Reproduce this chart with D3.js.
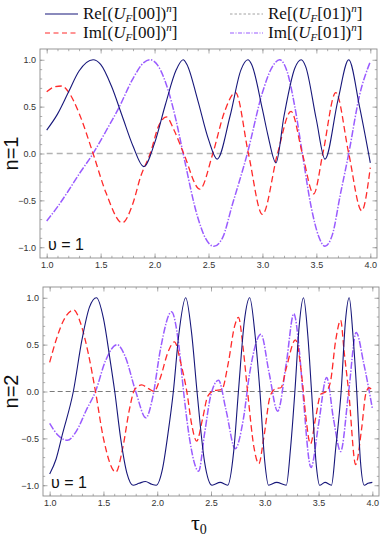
<!DOCTYPE html>
<html>
<head>
<meta charset="utf-8">
<script src="https://cdn.jsdelivr.net/npm/d3@7"></script>
<style>
  body { margin: 0; background: #fff; }
  svg { display: block; }
</style>
</head>
<body>
<div id="chart"></div>
<script>
// tick values
var tauTicks = [1.0, 1.5, 2.0, 2.5, 3.0, 3.5, 4.0];
var valTicks = [-1.0, -0.5, 0.0, 0.5, 1.0];

// n = 1 panel, [tau0, value]
var re00_n1 = [[1.0,0.25],[1.1,0.42],[1.2,0.65],[1.3,0.88],[1.43,1.0],[1.5,0.95],[1.6,0.72],[1.7,0.40],[1.8,0.08],[1.9,-0.14],[2.0,0.11],[2.1,0.52],[2.2,0.89],[2.265,1.0],[2.3,0.95],[2.4,0.57],[2.5,0.15],[2.58,-0.06],[2.7,0.40],[2.8,0.89],[2.865,1.0],[2.9,0.95],[3.0,0.47],[3.05,0.2],[3.125,-0.10],[3.2,0.40],[3.3,0.91],[3.36,1.0],[3.4,0.93],[3.5,0.36],[3.58,-0.06],[3.7,0.57],[3.8,1.0],[3.9,0.5],[4.0,-0.1]];
var im00_n1 = [[1.0,0.66],[1.07,0.71],[1.14,0.72],[1.2,0.66],[1.3,0.43],[1.43,0.0],[1.55,-0.42],[1.7,-0.74],[1.8,-0.53],[1.87,-0.25],[1.96,0.0],[2.04,0.3],[2.11,0.39],[2.18,0.25],[2.27,0.0],[2.42,-0.38],[2.54,0.0],[2.65,0.45],[2.75,0.65],[2.87,0.0],[3.0,-0.65],[3.14,0.0],[3.265,0.45],[3.37,0.0],[3.475,-0.43],[3.56,0.0],[3.68,0.65],[3.8,0.0],[3.92,-0.61],[4.0,-0.15]];
var re01_n1 = [[1.0,0],[4.0,0]];
var im01_n1 = [[1.0,-0.72],[1.1,-0.57],[1.2,-0.4],[1.3,-0.22],[1.43,0.0],[1.55,0.24],[1.67,0.49],[1.8,0.8],[1.9,0.97],[1.96,1.0],[2.03,0.94],[2.13,0.66],[2.2,0.35],[2.265,0.0],[2.4,-0.68],[2.47,-0.9],[2.55,-0.99],[2.63,-0.9],[2.72,-0.55],[2.86,0.0],[3.0,0.65],[3.08,0.9],[3.16,1.0],[3.23,0.87],[3.3,0.5],[3.37,0.0],[3.45,-0.56],[3.52,-0.88],[3.58,-0.99],[3.65,-0.86],[3.72,-0.45],[3.8,0.0],[3.9,0.62],[4.0,0.98]];

// n = 2 panel
var re00_n2 = [[1.0,-0.88],[1.06,-0.72],[1.12,-0.45],[1.22,0.0],[1.3,0.55],[1.37,0.9],[1.435,1.0],[1.5,0.78],[1.56,0.35],[1.605,0.0],[1.66,-0.5],[1.72,-0.88],[1.775,-1.0],[1.83,-0.98],[1.89,-0.96],[1.95,-0.99],[1.99,-1.0],[2.05,-0.82],[2.1,-0.45],[2.15,0.0],[2.2,0.6],[2.265,1.0],[2.32,0.62],[2.37,0.0],[2.44,-0.75],[2.51,-1.0],[2.585,-0.97],[2.655,-1.0],[2.71,-0.65],[2.755,0.0],[2.81,0.75],[2.86,1.0],[2.91,0.6],[2.955,0.0],[3.0,-0.75],[3.035,-1.0],[3.11,-0.97],[3.2,-1.0],[3.24,-0.6],[3.28,0.0],[3.32,0.7],[3.36,1.0],[3.4,0.6],[3.435,0.0],[3.48,-0.8],[3.51,-1.0],[3.56,-0.97],[3.62,-1.0],[3.66,-0.6],[3.71,0.0],[3.75,0.75],[3.785,1.0],[3.82,0.6],[3.855,0.0],[3.89,-0.75],[3.925,-1.0],[3.96,-0.98],[4.0,-0.97]];
var im00_n2 = [[1.0,0.31],[1.06,0.55],[1.13,0.76],[1.225,0.87],[1.29,0.72],[1.36,0.4],[1.426,0.0],[1.5,-0.5],[1.615,-0.86],[1.68,-0.6],[1.74,-0.2],[1.79,0.02],[1.855,0.07],[1.92,0.03],[1.97,0.0],[2.03,0.15],[2.1,0.42],[2.16,0.53],[2.22,0.3],[2.275,0.0],[2.32,-0.35],[2.367,-0.53],[2.42,-0.3],[2.47,-0.05],[2.53,0.01],[2.6,0.02],[2.66,0.3],[2.72,0.7],[2.755,0.79],[2.8,0.45],[2.84,0.0],[2.9,-0.6],[2.945,-0.77],[2.99,-0.5],[3.05,-0.05],[3.1,0.03],[3.15,0.04],[3.2,0.25],[3.285,0.55],[3.35,0.1],[3.38,-0.25],[3.425,-0.56],[3.47,-0.3],[3.52,-0.03],[3.57,0.0],[3.61,0.1],[3.66,0.55],[3.705,0.76],[3.74,0.4],[3.78,0.0],[3.845,-0.78],[3.9,-0.4],[3.94,-0.02],[3.97,0.04],[4.0,0.01]];
var re01_n2 = [[1.0,0],[4.0,0]];
var im01_n2 = [[1.0,-0.34],[1.08,-0.47],[1.165,-0.52],[1.25,-0.42],[1.34,-0.2],[1.426,0.0],[1.52,0.33],[1.627,0.5],[1.7,0.38],[1.8,0.0],[1.895,-0.28],[1.96,-0.05],[2.03,0.45],[2.133,0.85],[2.2,0.5],[2.245,0.0],[2.3,-0.5],[2.385,-0.85],[2.44,-0.45],[2.5,-0.03],[2.57,0.12],[2.64,-0.2],[2.725,-0.61],[2.8,-0.3],[2.86,0.2],[2.965,0.61],[3.04,0.2],[3.12,-0.21],[3.2,0.3],[3.27,0.83],[3.32,0.45],[3.35,0.05],[3.43,-0.81],[3.5,-0.35],[3.575,0.15],[3.64,-0.3],[3.705,-0.64],[3.78,0.0],[3.85,0.63],[3.92,0.3],[4.0,-0.18]];

var W = 381, H = 536;

var blue = "#17177a", red = "#ff2a2a", purple = "#9a5cff";

var svg = d3.select("#chart")
  .append("svg")
  .attr("width", W)
  .attr("height", H);

// legend
var legend = [
  { x: 45, y: 14, color: blue, dash: null, w: 1.2, head: "Re", idx: "00" },
  { x: 230, y: 14, color: "#8a8a8a", dash: "2.5,2", w: 0.8, head: "Re", idx: "01" },
  { x: 45, y: 33, color: red, dash: "5,3.5", w: 1.2, head: "Im", idx: "00" },
  { x: 230, y: 33, color: purple, dash: "4,1.5,1,1.5", w: 1.2, head: "Im", idx: "01" }
];

legend.forEach(function (d) {
  svg.append("line")
    .attr("x1", d.x).attr("x2", d.x + 33)
    .attr("y1", d.y).attr("y2", d.y)
    .attr("stroke", d.color)
    .attr("stroke-width", d.w)
    .attr("stroke-dasharray", d.dash);
  var t = svg.append("text")
    .attr("x", d.x + 38).attr("y", d.y + 5)
    .style("font-family", "'Liberation Serif', serif")
    .style("font-size", "17px")
    .attr("fill", "#111");
  t.append("tspan").text(d.head + "[(");
  t.append("tspan").style("font-style", "italic").text("U");
  t.append("tspan").attr("dy", 3).style("font-size", "11px").style("font-style", "italic").text("F");
  t.append("tspan").attr("dy", -3).text("[" + d.idx + "])");
  t.append("tspan").attr("dy", -7).style("font-size", "11px").style("font-style", "italic").text("n");
  t.append("tspan").attr("dy", 7).text("]");
});

var panels = [
  { label: "n=1", left: 40, right: 377, top: 49, bottom: 258,
    zero: { color: "#b3b3b3", w: 1.6, dash: "6,4" },
    re00: re00_n1, im00: im00_n1, re01: re01_n1, im01: im01_n1 },
  { label: "n=2", left: 43, right: 379, top: 287, bottom: 496,
    zero: { color: "#7a7a7a", w: 1, dash: "5,3" },
    re00: re00_n2, im00: im00_n2, re01: re01_n2, im01: im01_n2 }
];

var minorTau = d3.range(10, 41).map(function (i) { return i / 10; });
var minorVal = d3.range(-10, 11).map(function (i) { return i / 10; });

function fmt(v) {
  return d3.format(".1f")(v).replace("-", "\u2212");
}

panels.forEach(function (p) {
  var x = d3.scaleLinear().domain([0.938, 4.062]).range([p.left, p.right]);
  var y = d3.scaleLinear().domain([-1.115, 1.115]).range([p.bottom, p.top]);
  var g = svg.append("g");

  var clipId = "clip-" + p.label.replace("=", "");
  g.append("clipPath").attr("id", clipId)
    .append("rect")
    .attr("x", p.left).attr("y", p.top)
    .attr("width", p.right - p.left).attr("height", p.bottom - p.top);

  // frame ticks: minor then major, inward on all four sides
  function ticks(axisFn, scale, vals, size, pos, labels) {
    var a = axisFn(scale).tickValues(vals).tickSizeInner(-size).tickSizeOuter(0)
      .tickPadding(4);
    a.tickFormat(labels ? fmt : function () { return ""; });
    var ag = g.append("g").attr("transform", pos).call(a);
    ag.select(".domain").remove();
    ag.selectAll("line").attr("stroke", "#8c8c8c").attr("stroke-width", 0.7);
    ag.selectAll("text")
      .style("font-family", "'Liberation Sans', Arial, sans-serif")
      .style("font-size", "9px")
      .attr("fill", "#333");
    return ag;
  }
  var bx = "translate(0," + p.bottom + ")", tx = "translate(0," + p.top + ")";
  var ly = "translate(" + p.left + ",0)", ry = "translate(" + p.right + ",0)";
  ticks(d3.axisBottom, x, minorTau, 2.2, bx, false);
  ticks(d3.axisTop, x, minorTau, 2.2, tx, false);
  ticks(d3.axisLeft, y, minorVal, 2.2, ly, false);
  ticks(d3.axisRight, y, minorVal, 2.2, ry, false);
  ticks(d3.axisBottom, x, tauTicks, 4.5, bx, true);
  ticks(d3.axisTop, x, tauTicks, 4.5, tx, false);
  ticks(d3.axisLeft, y, valTicks, 4.5, ly, true);
  ticks(d3.axisRight, y, valTicks, 4.5, ry, false);

  g.append("rect")
    .attr("x", p.left).attr("y", p.top)
    .attr("width", p.right - p.left).attr("height", p.bottom - p.top)
    .attr("fill", "none")
    .attr("stroke", "#8c8c8c")
    .attr("stroke-width", 0.9);

  var line = d3.line()
    .x(function (d) { return x(d[0]); })
    .y(function (d) { return y(d[1]); })
    .curve(d3.curveMonotoneX);

  var series = [
    { data: p.re01, color: p.zero.color, w: p.zero.w, dash: p.zero.dash },
    { data: p.im01, color: purple, w: 1.5, dash: "7,1.6,1.4,1.6" },
    { data: p.im00, color: red, w: 1.3, dash: "6.5,3.5" },
    { data: p.re00, color: blue, w: 1.1, dash: null }
  ];

  g.append("g").attr("clip-path", "url(#" + clipId + ")")
    .selectAll("path")
    .data(series)
    .enter()
    .append("path")
    .attr("d", function (d) { return line(d.data); })
    .attr("fill", "none")
    .attr("stroke", function (d) { return d.color; })
    .attr("stroke-width", function (d) { return d.w; })
    .attr("stroke-dasharray", function (d) { return d.dash; });

  // panel label on the left
  g.append("text")
    .attr("transform", "translate(18," + y(0) + ") rotate(-90)")
    .attr("text-anchor", "middle")
    .style("font-family", "'Liberation Sans', Arial, sans-serif")
    .style("font-size", "20px")
    .attr("fill", "#111")
    .text(p.label);

  g.append("text")
    .attr("x", p.left + 8).attr("y", p.bottom - 8)
    .style("font-family", "'Liberation Sans', Arial, sans-serif")
    .style("font-size", "16px")
    .attr("fill", "#111")
    .text("\u03c5 = 1");
});

// x axis title
var xt = svg.append("text")
  .attr("x", 191).attr("y", 530)
  .style("font-family", "'Liberation Serif', serif")
  .style("font-size", "22px")
  .attr("fill", "#111");
xt.append("tspan").text("\u03c4");
xt.append("tspan").attr("dy", 4).style("font-size", "14px").text("0");
</script>
</body>
</html>
